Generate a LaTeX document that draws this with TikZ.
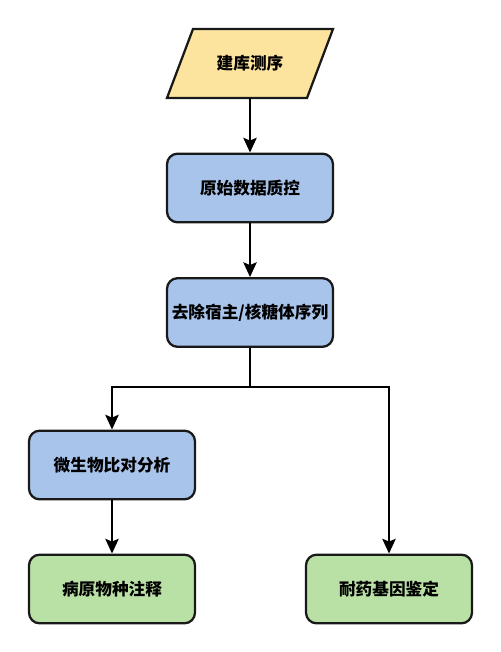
\documentclass[tikz,border=0pt]{standalone}
\usepackage{fontspec}
\newfontfamily\cjk{Noto Sans CJK SC}
\usetikzlibrary{arrows.meta}

\definecolor{inyellow}{HTML}{FDE49E}
\definecolor{stepblue}{HTML}{A9C4EB}
\definecolor{outgreen}{HTML}{B9E0A5}

\begin{document}
\begin{tikzpicture}[x=0.75pt, y=-0.75pt,
    label/.style={font=\cjk\bfseries\fontsize{12.5}{14}\selectfont},
    box/.style={label, draw=black!90, line width=1.7pt, rounded corners=8pt,
        minimum width=124.5pt, minimum height=51.5pt, inner sep=1pt},
    io/.style={draw=black!90, line width=1.7pt, fill=inyellow},
    arr/.style={line width=1.7pt, -{Stealth[length=11pt, width=10pt, inset=2pt]}},
    link/.style={line width=1.7pt}]
    \useasboundingbox (0,0) rectangle (500,652);

    % Input parallelogram
    \draw[io] (193,29) -- (333,29) -- (307,98) -- (167,98) -- cycle;
    \node[label, minimum height=51.75pt, inner sep=0pt] (seq) at (250,63.5) {建库测序};

    % Steps
    \node[box, fill=stepblue] (qc) at (250,188) {原始数据质控};
    \node[box, fill=stepblue] (host) at (250,312.5) {去除宿主/核糖体序列};
    \node[box, fill=stepblue] (align) at (112,465) {微生物比对分析};
    \node[box, fill=outgreen] (annot) at (112,589) {病原物种注释};
    \node[box, fill=outgreen] (amr) at (389,589) {耐药基因鉴定};

    % Branch point
    \coordinate (split) at (250,387);

    % Arrows
    \draw[arr] (seq) -- (qc);
    \draw[arr] (qc) -- (host);
    \draw[link] (host) -- (split);
    \draw[arr] (split) -| (align);
    \draw[arr] (split) -| (amr);
    \draw[arr] (align) -- (annot);
\end{tikzpicture}
\end{document}
